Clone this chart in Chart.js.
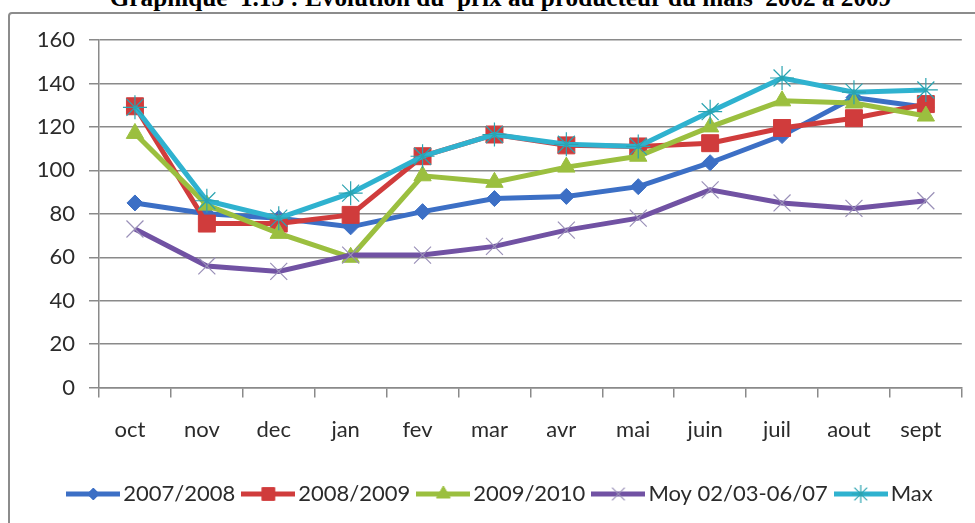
<!DOCTYPE html>
<html>
<head>
<meta charset="utf-8">
<script src="https://cdn.jsdelivr.net/npm/chart.js@4.4.1/dist/chart.umd.min.js"></script>
<style>
  html, body { margin: 0; padding: 0; background: #fff; overflow: hidden; }
  #wrap { position: relative; width: 975px; height: 523px; overflow: hidden; }
  #title {
    position: absolute; left: 13px; top: -16px; width: 975px;
    text-align: center; white-space: pre; line-height: 1;
    font: bold 25.2px "Liberation Serif", "Times New Roman", serif; color: #000;
  }
  #frame {
    position: absolute; left: 8px; top: 12px; width: 1000px; height: 600px;
    border: 2px solid #8c8c8c; border-radius: 4px;
  }
  #chart { position: absolute; left: 0; top: 0; }
</style>
</head>
<body>
<div id="wrap">
  <div id="title">Graphique  1.13 : Evolution du  prix au producteur du maïs  2002 à 2009</div>
  <div id="frame"></div>
  <canvas id="chart" width="975" height="523"></canvas>
</div>
<script>
const months = ['oct', 'nov', 'dec', 'jan', 'fev', 'mar', 'avr', 'mai', 'juin', 'juil', 'aout', 'sept'];
const yTicks = [0, 20, 40, 60, 80, 100, 120, 140, 160];

const names = ['2007/2008', '2008/2009', '2009/2010', 'Moy 02/03-06/07', 'Max'];
const s0708 = [85, 80, 78, 74, 81, 87, 88, 92.5, 103.5, 116, 133.5, 129];
const s0809 = [129.5, 75.5, 75.5, 79.5, 106.5, 116.5, 111.5, 111, 112.5, 119.5, 124, 130.5];
const s0910 = [117, 84, 71, 60, 97.5, 94.5, 101.5, 106.5, 120, 132, 131, 125];
const sMoy = [73, 56, 53.5, 61, 61, 65, 72.5, 78, 91, 85, 82.5, 86];
const sMax = [129, 86, 78, 89.5, 106.5, 116.5, 112, 111, 127, 142.5, 136, 137];

const lineColors = ['#3c6fc5', '#d03c3c', '#9bbf3f', '#7152a3', '#2fb2cf'];
const markColors = ['#3c6fc5', '#d03c3c', '#9bbf3f', '#9a90b8', '#2aa3b0'];
const markStyles = ['rectRot', 'rect', 'triangle', 'crossRot', 'star'];
const markSizes = [8, 12, 10, 12, 12];
const legendSizes = [6, 9, 8, 9, 9];

const TXT = '#2b2b2b';
const GRID = '#8a8a8a';

function legendIcon(i) {
    const c = document.createElement('canvas');
    c.width = 54;
    c.height = 22;
    const ctx = c.getContext('2d');
    ctx.strokeStyle = lineColors[i];
    ctx.lineWidth = 5;
    ctx.beginPath();
    ctx.moveTo(0, 11);
    ctx.lineTo(54, 11);
    ctx.stroke();
    const hollow = i >= 3;
    ctx.fillStyle = markColors[i];
    ctx.strokeStyle = markColors[i];
    ctx.lineWidth = hollow ? 1.2 : 1;
    Chart.helpers.drawPoint(ctx, {
        pointStyle: markStyles[i], radius: legendSizes[i], rotation: 0, borderWidth: hollow ? 1.2 : 1
    }, 27, 11);
    return c;
}

function series(i, data) {
    const hollow = i >= 3;
    return {
        label: names[i],
        data: data,
        borderColor: lineColors[i],
        backgroundColor: lineColors[i],
        borderWidth: 5,
        tension: 0,
        pointStyle: markStyles[i],
        pointRadius: markSizes[i],
        pointBackgroundColor: markColors[i],
        pointBorderColor: markColors[i],
        pointBorderWidth: hollow ? 1.2 : 1,
        order: 5 - i
    };
}

const icons = [0, 1, 2, 3, 4].map(legendIcon);

// legend sits a bit right of the page centre in the original
const shiftLegend = {
    id: 'shiftLegend',
    afterLayout(chart) {
        chart.legend.left += 11;
        chart.legend.right += 11;
    }
};

new Chart(document.getElementById('chart'), {
    type: 'line',
    data: {
        labels: months,
        datasets: [
            series(0, s0708),
            series(1, s0809),
            series(2, s0910),
            series(3, sMoy),
            series(4, sMax)
        ]
    },
    plugins: [shiftLegend],
    options: {
        responsive: false,
        animation: false,
        devicePixelRatio: 1,
        layout: { padding: { left: 20, right: 10, top: 40, bottom: 8 } },
        plugins: {
            tooltip: { enabled: false },
            legend: {
                position: 'bottom',
                labels: {
                    usePointStyle: true,
                    pointStyleWidth: 38,
                    padding: 14,
                    color: TXT,
                    font: { family: 'Lato', size: 22 },
                    generateLabels: function(chart) {
                        return chart.data.datasets.map((ds, i) => ({
                            text: ds.label,
                            fillStyle: lineColors[i],
                            strokeStyle: lineColors[i],
                            lineWidth: 0,
                            pointStyle: icons[i],
                            hidden: false,
                            datasetIndex: i,
                            fontColor: TXT
                        }));
                    }
                }
            }
        },
        scales: {
            x: {
                offset: true,
                afterFit: function(scale) { scale.height += 7; },
                grid: {
                    offset: true,
                    drawOnChartArea: false,
                    drawTicks: true,
                    tickLength: 10,
                    color: GRID,
                    lineWidth: 1.5
                },
                border: { color: GRID, width: 1.5 },
                ticks: {
                    color: TXT,
                    font: { family: 'Lato', size: 22 },
                    padding: 19,
                    labelOffset: -5,
                    maxRotation: 0,
                    autoSkip: false
                }
            },
            y: {
                min: yTicks[0],
                max: yTicks[yTicks.length - 1],
                afterFit: function(scale) { scale.width = 79; },
                grid: {
                    color: GRID,
                    lineWidth: 1.5,
                    drawTicks: true,
                    tickLength: 10
                },
                border: { color: GRID, width: 1.5 },
                ticks: {
                    stepSize: yTicks[1] - yTicks[0],
                    color: TXT,
                    font: { family: 'Lato', size: 22 },
                    padding: 14
                }
            }
        }
    }
});
</script>
</body>
</html>
